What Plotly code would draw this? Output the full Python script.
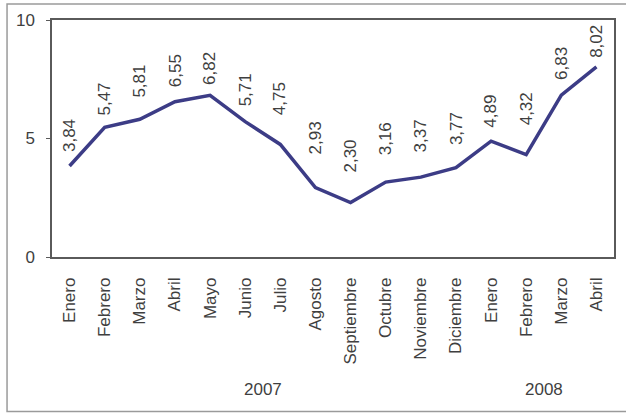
import plotly.graph_objects as go

# Monthly series, January 2007 – April 2008
months = ["Enero", "Febrero", "Marzo", "Abril", "Mayo", "Junio", "Julio",
          "Agosto", "Septiembre", "Octubre", "Noviembre", "Diciembre",
          "Enero", "Febrero", "Marzo", "Abril"]
values = [3.84, 5.47, 5.81, 6.55, 6.82, 5.71, 4.75, 2.93, 2.30, 3.16,
          3.37, 3.77, 4.89, 4.32, 6.83, 8.02]
years = ["2007", "2008"]
year_month_counts = [12, 4]

y_ticks = [0, 5, 10]

# Gap (px) between each point and the foot of its value label
label_gaps = [12, 10, 20, 13, 8, 13, 27, 31, 28, 25, 23, 21, 11, 27, 13, 7]

TEXT = "#3f3f3f"
LINE = "#3c3c86"
FONT = "Liberation Sans, Arial, sans-serif"

idx = list(range(len(months)))

fig = go.Figure()
fig.add_trace(go.Scatter(
    x=idx, y=values, mode="lines",
    line=dict(color=LINE, width=3.5),
    hoverinfo="skip", showlegend=False,
))

annotations = []
# Value labels above every point, decimal comma
for i, v, gap in zip(idx, values, label_gaps):
    annotations.append(dict(
        x=i, y=v, xref="x", yref="y",
        text=f"{v:.2f}".replace(".", ","),
        textangle=-90, showarrow=False,
        xanchor="center", yanchor="bottom", yshift=gap,
        font=dict(family=FONT, size=17, color=TEXT),
    ))

# Year labels centred under their months
start = 0
for yr, n in zip(years, year_month_counts):
    annotations.append(dict(
        x=start + (n - 1) / 2, y=-0.56, xref="x", yref="paper",
        text=yr, showarrow=False, xanchor="center", yanchor="middle",
        font=dict(family=FONT, size=17, color=TEXT),
    ))
    start += n

fig.update_layout(
    width=626, height=415,
    margin=dict(l=52, r=10, t=20, b=158),
    paper_bgcolor="white", plot_bgcolor="white",
    font=dict(family=FONT, size=17, color=TEXT),
    annotations=annotations,
    shapes=[dict(
        type="rect", xref="paper", yref="paper",
        x0=-0.080, x1=1.03, y0=-0.652, y1=1.068,
        line=dict(color="#9a9a9a", width=1.5), layer="below",
    )],
    xaxis=dict(
        range=[-0.5, len(months) - 0.5],
        tickmode="array", tickvals=idx, ticktext=months,
        tickangle=-90, ticks="outside", ticklen=12,
        tickcolor="rgba(0,0,0,0)",
        showgrid=False, zeroline=False,
        showline=True, linecolor="#5a5a5a", linewidth=1.5, mirror=True,
        tickfont=dict(family=FONT, size=17, color=TEXT),
    ),
    yaxis=dict(
        range=[0, 10], tickvals=y_ticks,
        ticks="outside", ticklen=4, tickcolor="#5a5a5a",
        ticklabelstandoff=8,
        showgrid=False, zeroline=False,
        showline=True, linecolor="#5a5a5a", linewidth=1.5, mirror=True,
        tickfont=dict(family=FONT, size=17, color=TEXT),
    ),
)

fig.write_html("out.html")
